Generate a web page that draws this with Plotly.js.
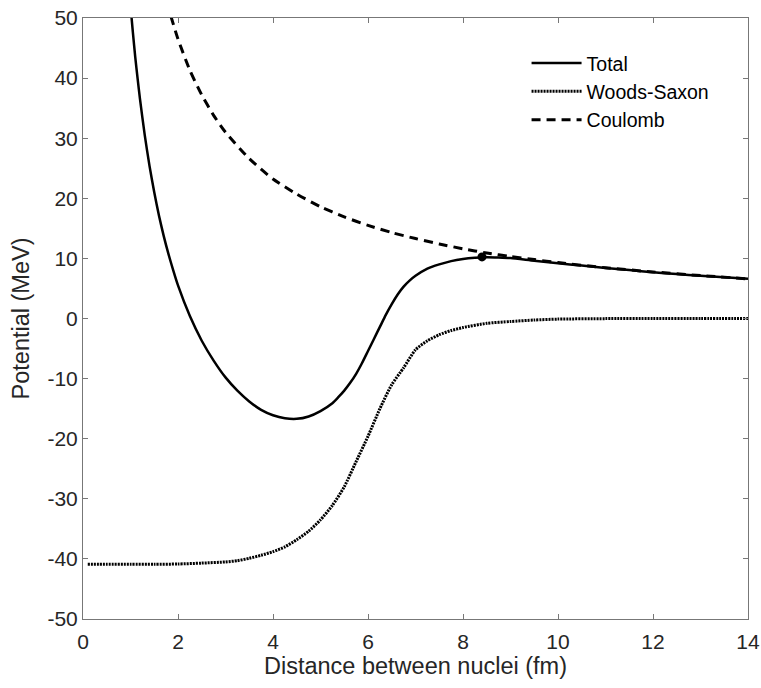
<!DOCTYPE html>
<html>
<head>
<meta charset="utf-8">
<script src="https://cdn.plot.ly/plotly-3.0.1.min.js"></script>
<style>html,body{margin:0;padding:0;background:#fff;}#chart{width:761px;height:688px;}</style>
</head>
<body>
<div id="chart"></div>
<script>
// Total potential
var rTotal = [1.0, 1.05, 1.1, 1.15, 1.2, 1.3, 1.4, 1.5, 1.6, 1.7, 1.8, 1.9, 2.0, 2.25, 2.5, 2.75, 3.0, 3.25, 3.5, 3.75, 4.0, 4.25, 4.5, 4.75, 5.0, 5.25, 5.375, 5.5, 5.625, 5.75, 5.875, 6.0, 6.125, 6.25, 6.375, 6.5, 6.625, 6.75, 6.875, 7.0, 7.25, 7.5, 7.75, 8.0, 8.25, 8.5, 8.75, 9.0, 9.5, 10, 10.5, 11, 11.5, 12, 12.5, 13, 13.5, 14];
var vTotal = [52.0, 47.6, 43.5, 39.9, 36.5, 30.5, 25.4, 21.0, 17.1, 13.7, 10.7, 8.0, 5.5, 0.4, -3.7, -7.0, -9.8, -12.0, -13.8, -15.2, -16.1, -16.6, -16.7, -16.3, -15.4, -14.1, -13.1, -12.0, -10.7, -9.2, -7.4, -5.4, -3.4, -1.4, 0.6, 2.4, 4.0, 5.3, 6.3, 7.1, 8.3, 9.0, 9.55, 9.9, 10.1, 10.2, 10.15, 10.05, 9.6, 9.2, 8.8, 8.4, 8.05, 7.7, 7.4, 7.1, 6.85, 6.6];

// Woods-Saxon potential
var rWS = [0.1, 0.5, 1, 1.5, 2, 2.5, 3, 3.25, 3.5, 3.75, 4, 4.25, 4.5, 4.75, 5, 5.25, 5.5, 5.75, 6, 6.25, 6.5, 6.75, 7, 7.25, 7.5, 7.75, 8, 8.5, 9, 9.5, 10, 11, 12, 13, 14];
var vWS = [-40.9, -40.9, -40.9, -40.9, -40.85, -40.7, -40.5, -40.3, -39.9, -39.4, -38.8, -38.0, -36.8, -35.4, -33.5, -31.1, -28.0, -23.8, -19.6, -15.0, -11.0, -8.2, -5.2, -3.7, -2.7, -2.0, -1.5, -0.8, -0.5, -0.25, -0.1, -0.02, 0, 0, 0];

// Coulomb potential
var rC = [1.85, 2, 2.25, 2.5, 2.75, 3, 3.5, 4, 4.5, 5, 5.5, 6, 6.5, 7, 7.5, 8, 8.5, 9, 9.5, 10, 11, 12, 13, 14];
var vC = [50.3, 46.5, 41.3, 37.2, 33.8, 31.0, 26.6, 23.2, 20.7, 18.6, 16.9, 15.5, 14.3, 13.3, 12.4, 11.6, 10.9, 10.3, 9.8, 9.3, 8.45, 7.75, 7.15, 6.6];

// Barrier top marker
var rPeak = [8.4];
var vPeak = [10.25];

var xTicks = [0, 2, 4, 6, 8, 10, 12, 14];
var yTicks = [-50, -40, -30, -20, -10, 0, 10, 20, 30, 40, 50];

var FONT = 'Liberation Sans, Arial, Helvetica, sans-serif';

var traces = [
  {x: rTotal, y: vTotal, type: 'scatter', mode: 'lines', name: 'Total',
   line: {color: '#000', width: 2.5, shape: 'spline', smoothing: 0.6}},
  {x: rWS, y: vWS, type: 'scatter', mode: 'lines', name: 'Woods-Saxon',
   line: {color: '#000', width: 3, dash: '2px,1px', shape: 'spline', smoothing: 0.6}},
  {x: rC, y: vC, type: 'scatter', mode: 'lines', name: 'Coulomb',
   line: {color: '#000', width: 3, dash: '9px,6px', shape: 'spline', smoothing: 0.6}},
  {x: rPeak, y: vPeak, type: 'scatter', mode: 'markers', showlegend: false,
   marker: {color: '#000', size: 9}}
];

var axisCommon = {
  showgrid: false, zeroline: false, showline: true, mirror: 'allticks',
  linecolor: '#777', linewidth: 1, ticks: 'inside', ticklen: 5, tickwidth: 1, tickcolor: '#777',
  tickfont: {family: FONT, size: 21, color: '#262626'}
};

var layout = {
  width: 761, height: 688,
  margin: {l: 83, r: 13, t: 18, b: 69},
  paper_bgcolor: '#fff', plot_bgcolor: '#fff',
  font: {family: FONT, color: '#262626'},
  xaxis: Object.assign({}, axisCommon, {
    range: [0, 14], tickvals: xTicks, ticktext: xTicks.map(String), ticklabelstandoff: 4,
    title: {text: 'Distance between nuclei (fm)', font: {family: FONT, size: 23.5, color: '#262626'}, standoff: 2}
  }),
  yaxis: Object.assign({}, axisCommon, {
    range: [-50, 50], tickvals: yTicks, ticktext: yTicks.map(String),
    title: {text: 'Potential (MeV)', font: {family: FONT, size: 23.5, color: '#262626'}, standoff: 11}
  }),
  legend: {x: 0.667, y: 0.957, xanchor: 'left', yanchor: 'top', bgcolor: 'rgba(0,0,0,0)', borderwidth: 0,
           itemwidth: 50, font: {family: FONT, size: 19.5, color: '#000'}, tracegroupgap: 0},
  showlegend: true
};

Plotly.newPlot('chart', traces, layout, {displayModeBar: false, staticPlot: true});
</script>
</body>
</html>
